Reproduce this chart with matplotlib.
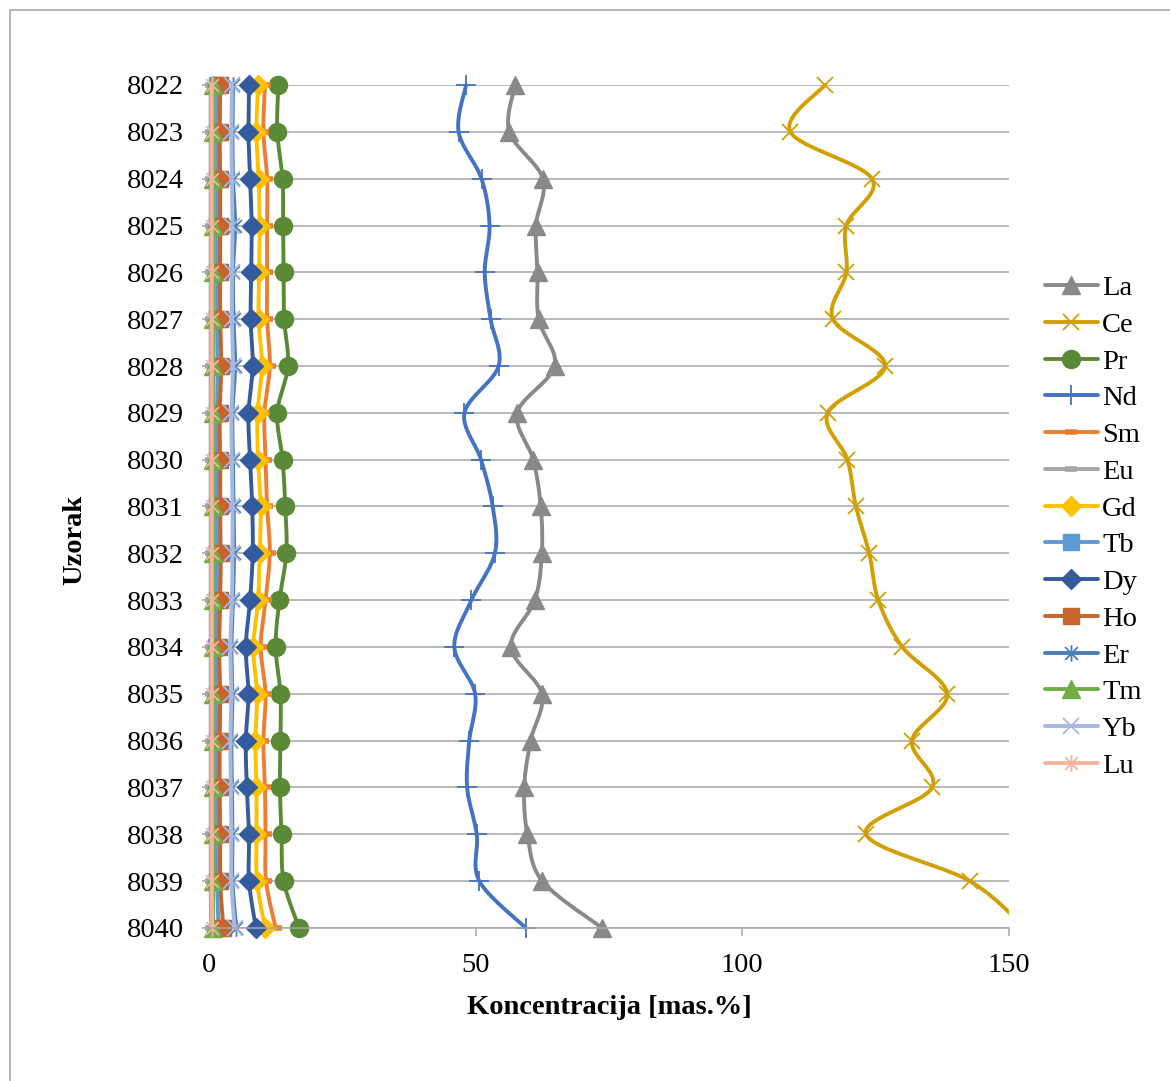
import numpy as np
import matplotlib
matplotlib.use('Agg')
import matplotlib.pyplot as plt
from matplotlib.path import Path
from matplotlib.patches import Rectangle

plt.rcParams['font.family'] = ['Liberation Serif', 'DejaVu Serif']

samples = ['8022', '8023', '8024', '8025', '8026', '8027', '8028', '8029', '8030',
           '8031', '8032', '8033', '8034', '8035', '8036', '8037', '8038', '8039', '8040']

La = [57.4, 56.3, 62.6, 61.3, 61.6, 61.8, 64.8, 57.8, 60.8, 62.2, 62.4, 61.1, 56.6, 62.4, 60.3, 59.1, 59.7, 62.5, 73.7]
Ce = [115.5, 109.0, 124.3, 119.5, 119.5, 117.0, 126.8, 116.0, 119.7, 121.3, 123.8, 125.5, 130.0, 138.4, 131.8, 135.6, 123.2, 142.7, 153.0]
Pr = [13.0, 12.8, 13.8, 13.9, 14.0, 14.1, 14.8, 12.8, 13.8, 14.3, 14.5, 13.2, 12.5, 13.4, 13.4, 13.3, 13.6, 14.0, 16.9]
Nd = [48.2, 46.8, 51.1, 52.6, 51.7, 52.8, 54.3, 47.9, 51.0, 53.2, 53.6, 49.2, 46.0, 49.9, 48.8, 48.4, 50.2, 50.7, 59.4]
Sm = [10.5, 10.2, 10.9, 10.9, 10.9, 10.9, 11.4, 10.4, 10.6, 10.9, 11.4, 10.6, 9.7, 10.6, 10.2, 10.5, 10.6, 10.7, 12.5]
Eu = [0.3, 0.3, 0.3, 0.3, 0.3, 0.3, 0.3, 0.3, 0.3, 0.3, 0.3, 0.3, 0.3, 0.3, 0.3, 0.3, 0.3, 0.3, 0.4]
Gd = [9.2, 8.9, 9.3, 9.5, 9.4, 9.3, 9.9, 9.1, 9.2, 9.7, 9.5, 9.2, 8.3, 9.0, 8.7, 8.9, 8.9, 9.0, 10.5]
Tb = [1.5, 1.5, 1.5, 1.5, 1.5, 1.5, 1.6, 1.5, 1.5, 1.5, 1.5, 1.5, 1.4, 1.5, 1.5, 1.5, 1.5, 1.5, 1.8]
Dy = [7.5, 7.4, 7.7, 8.0, 7.9, 7.8, 8.2, 7.4, 7.7, 8.1, 8.2, 7.7, 6.9, 7.4, 6.9, 7.1, 7.5, 7.5, 8.8]
Ho = [2.1, 2.0, 2.1, 2.1, 2.1, 2.1, 2.3, 2.0, 2.1, 2.1, 2.2, 2.1, 1.9, 2.1, 2.0, 2.0, 2.1, 2.1, 2.7]
Er = [4.5, 4.4, 4.5, 4.9, 4.5, 4.6, 4.9, 4.4, 4.5, 4.6, 4.7, 4.5, 4.2, 4.4, 4.2, 4.3, 4.4, 4.4, 5.1]
Tm = [0.8, 0.8, 0.8, 0.8, 0.8, 0.8, 0.8, 0.8, 0.8, 0.8, 0.8, 0.8, 0.8, 0.8, 0.8, 0.8, 0.8, 0.8, 0.8]
Yb = [4.3, 4.2, 4.3, 4.4, 4.3, 4.3, 4.5, 4.2, 4.3, 4.4, 4.4, 4.3, 4.0, 4.2, 4.0, 4.1, 4.2, 4.2, 4.8]
Lu = [0.5, 0.5, 0.5, 0.5, 0.5, 0.5, 0.5, 0.5, 0.5, 0.5, 0.5, 0.5, 0.5, 0.5, 0.5, 0.5, 0.5, 0.5, 0.6]

# excel style asterisk (x + vertical bar)
star = Path([(-1, -1), (1, 1), (-1, 1), (1, -1), (0, -1.3), (0, 1.3)],
            [Path.MOVETO, Path.LINETO, Path.MOVETO, Path.LINETO, Path.MOVETO, Path.LINETO])

series = [
    ('La', La, '#898989', '^', 13, 1),
    ('Ce', Ce, '#D1A000', 'x', 12, 1.3),
    ('Pr', Pr, '#5A8A35', 'o', 13, 1),
    ('Nd', Nd, '#4472C4', '+', 15, 1.3),
    ('Sm', Sm, '#ED7D31', '_', 9, 4),
    ('Eu', Eu, '#A5A5A5', '_', 9, 4),
    ('Gd', Gd, '#FFC000', 'D', 10, 1),
    ('Tb', Tb, '#5B9BD5', 's', 11, 1),
    ('Dy', Dy, '#345B9D', 'D', 10, 1),
    ('Ho', Ho, '#C6642B', 's', 11, 1),
    ('Er', Er, '#4A7EB5', star, 12, 1.3),
    ('Tm', Tm, '#70AD47', '^', 13, 1),
    ('Yb', Yb, '#A6B8E0', 'x', 12, 1.3),
    ('Lu', Lu, '#F4B4A0', star, 12, 1.3),
]

FS = 20.5


def smooth(xv, yv, n=24):
    # catmull-rom, same as excel smoothed line
    P = np.column_stack([xv, yv]).astype(float)
    out = []
    t = np.linspace(0, 1, n, endpoint=False)[:, None]
    for i in range(len(P) - 1):
        p0 = P[i - 1] if i > 0 else P[i]
        p1, p2 = P[i], P[i + 1]
        p3 = P[i + 2] if i + 2 < len(P) else P[i + 1]
        seg = 0.5 * (2 * p1 + (-p0 + p2) * t + (2 * p0 - 5 * p1 + 4 * p2 - p3) * t ** 2
                     + (-p0 + 3 * p1 - 3 * p2 + p3) * t ** 3)
        out.append(seg)
    out.append(P[-1:])
    c = np.vstack(out)
    return c[:, 0], c[:, 1], n


fig = plt.figure(figsize=(11.7, 10.81), dpi=100)
ax = fig.add_axes([209 / 1170, 1 - 928 / 1081, 800 / 1170, (928 - 85) / 1081])

ypos = np.arange(len(samples))
clip = Rectangle((-0.05, -0.1), 1.05, 1.2, transform=ax.transAxes, visible=False)
ax.add_patch(clip)

for name, vals, col, mk, ms, mew in series:
    cx, cy, n = smooth(vals, ypos)
    ln, = ax.plot(cx, cy, color=col, lw=2.8, marker=mk, ms=ms, mew=mew,
                  mec=col, mfc=col, markevery=[i * n for i in range(len(vals))],
                  label=name, solid_capstyle='round')
    ln.set_clip_path(clip)

ax.set_xlim(0, 150)
ax.set_ylim(len(samples) - 1, 0)
ax.set_xticks([0, 50, 100, 150])
ax.set_yticks(ypos)
ax.set_yticklabels(samples)
ax.grid(axis='y', color='#A6A6A6', lw=1.1, zorder=0)
ax.set_axisbelow(True)
for s in ['top', 'right', 'left']:
    ax.spines[s].set_visible(False)
ax.spines['bottom'].set_color('#A6A6A6')
ax.spines['bottom'].set_linewidth(1.1)
ax.tick_params(axis='both', colors='#A6A6A6', labelcolor='black', labelsize=FS, width=1.1)
ax.tick_params(axis='y', length=5, pad=13)
ax.tick_params(axis='x', length=6, pad=12)

ax.set_xlabel('Koncentracija [mas.%]', fontsize=FS, fontweight='bold', labelpad=12)
fig.text(75 / 1170, 1 - 540 / 1081, 'Uzorak', rotation=90, fontsize=FS,
         fontweight='bold', ha='center', va='center')

ax.legend(loc='center left', bbox_to_anchor=(1045 / 1170, 1 - 527 / 1081),
          bbox_transform=fig.transFigure, frameon=False, fontsize=FS,
          handlelength=1.86, handletextpad=0.14, labelspacing=0.38,
          borderaxespad=0, borderpad=0)

fig.patches.append(Rectangle((10 / 1170, -0.1), 2, 1 - 10 / 1081 + 0.1, transform=fig.transFigure,
                             fill=False, edgecolor='#A6A6A6', lw=1.2))

fig.savefig('out.png', dpi=100)
